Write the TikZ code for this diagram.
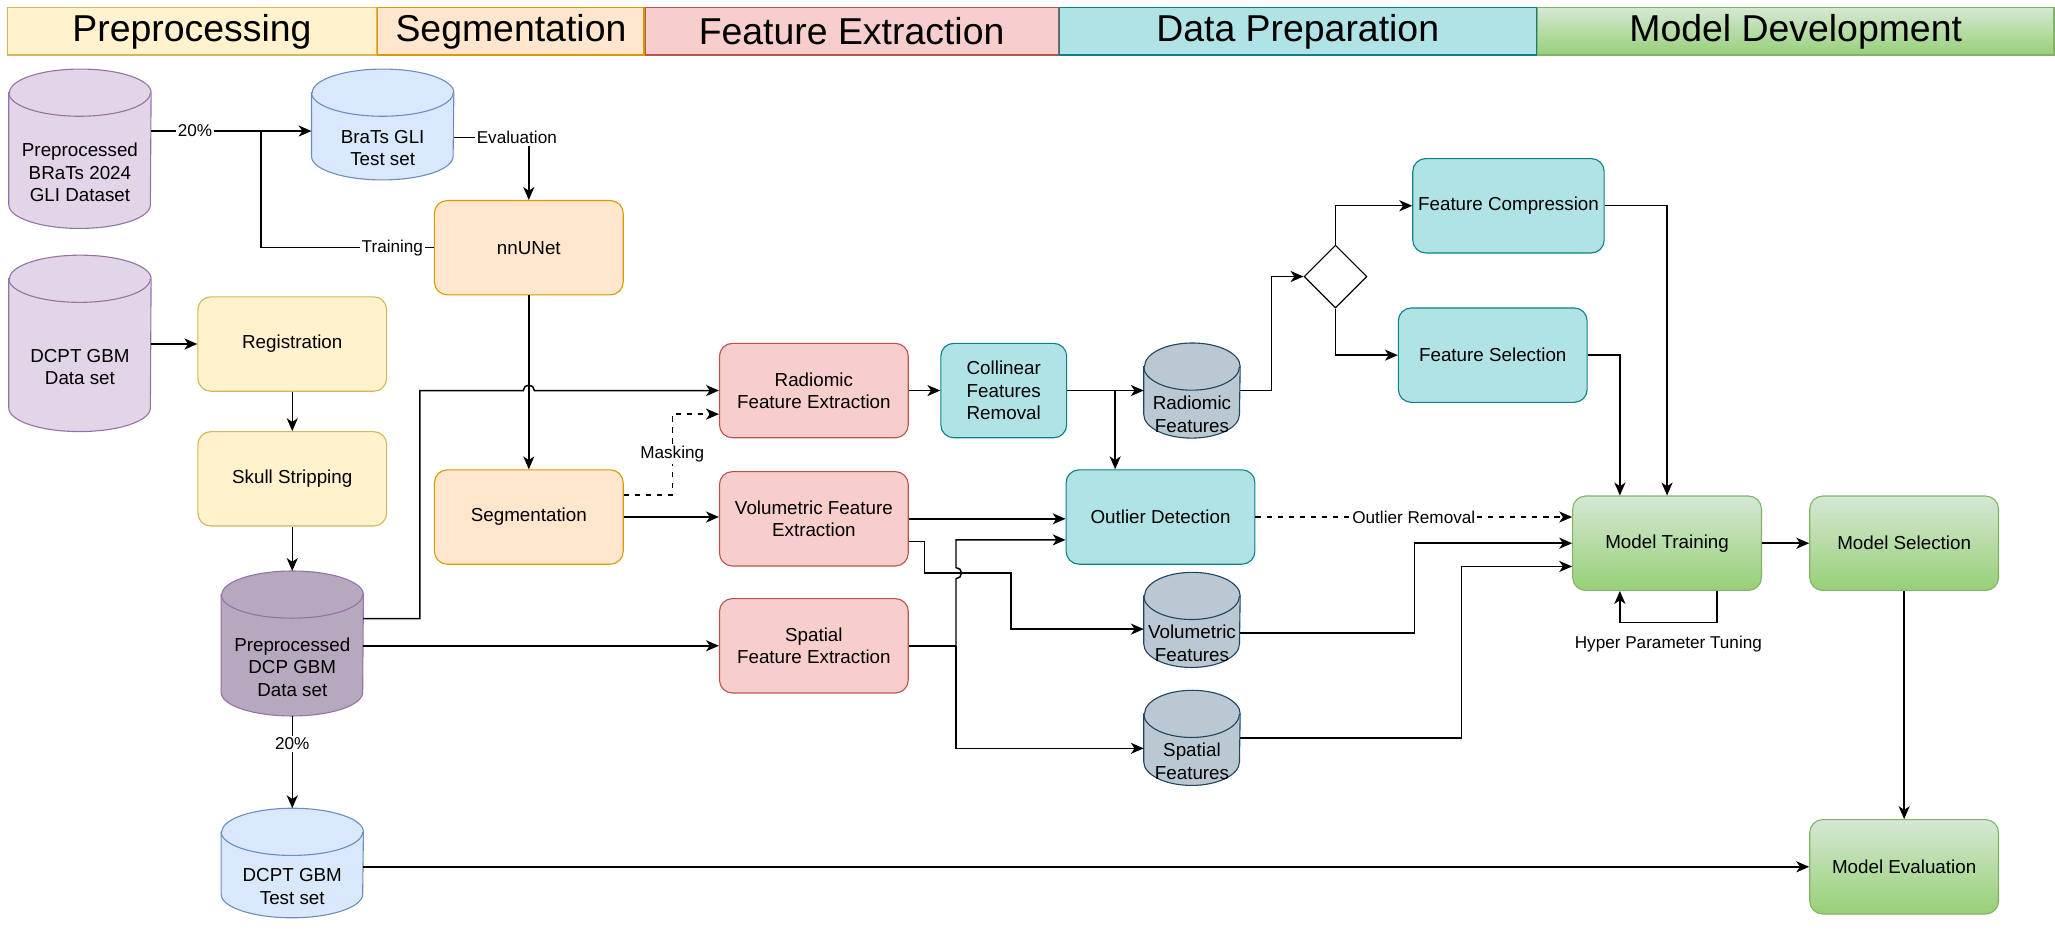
\documentclass[tikz,border=0pt]{standalone}
\usepackage{fontspec}
\setmainfont{Liberation Sans}
\usetikzlibrary{shapes.geometric, arrows.meta, positioning, backgrounds}

\definecolor{prepFill}{HTML}{FFF2CC}
\definecolor{prepLine}{HTML}{D6B656}
\definecolor{segFill}{HTML}{FFE6CC}
\definecolor{segLine}{HTML}{D79B00}
\definecolor{featFill}{HTML}{F8CECC}
\definecolor{featLine}{HTML}{B85450}
\definecolor{dataFill}{HTML}{B0E3E6}
\definecolor{dataLine}{HTML}{0E8088}
\definecolor{modelTop}{HTML}{D5E8D4}
\definecolor{modelBot}{HTML}{97D077}
\definecolor{modelLine}{HTML}{82B366}
\definecolor{cylPurpleFill}{HTML}{E1D5E7}
\definecolor{cylPurpleLine}{HTML}{9673A6}
\definecolor{cylDarkFill}{HTML}{B6A9BF}
\definecolor{cylBlueFill}{HTML}{DAE8FC}
\definecolor{cylBlueLine}{HTML}{6C8EBF}
\definecolor{cylGreyFill}{HTML}{BAC8D3}
\definecolor{cylGreyLine}{HTML}{23445D}

\newcommand{\boxfont}{\fontsize{10.2}{12.2}\selectfont}
\newcommand{\lblfont}{\fontsize{9.3}{11}\selectfont}
\newcommand{\bandfont}{\fontsize{20.3}{24}\selectfont}

\begin{document}
\begin{tikzpicture}[x=0.025cm, y=-0.025cm, node distance=1cm,
    band/.style={rectangle, draw, line width=0.6pt, minimum height=0.9cm, inner sep=0pt, font=\bandfont},
    stage/.style={rectangle, rounded corners=7pt, draw, line width=0.6pt, minimum width=3.6cm, minimum height=1.8cm, align=center, inner sep=1pt, font=\boxfont},
    prepbox/.style={stage, fill=prepFill, draw=prepLine},
    segbox/.style={stage, fill=segFill, draw=segLine},
    featbox/.style={stage, fill=featFill, draw=featLine},
    databox/.style={stage, fill=dataFill, draw=dataLine},
    modelbox/.style={stage, top color=modelTop, bottom color=modelBot, draw=modelLine},
    db/.style={rectangle, minimum width=2.7cm, inner sep=0pt},
    smalldb/.style={db, minimum width=1.825cm, minimum height=1.8cm},
    dbtext/.style={align=center, yshift=-12.8pt, inner sep=0pt, font=\boxfont},
    cylPurple/.style={draw=cylPurpleLine, fill=cylPurpleFill},
    cylDark/.style={draw=cylPurpleLine, fill=cylDarkFill},
    cylBlue/.style={draw=cylBlueLine, fill=cylBlueFill},
    cylGrey/.style={draw=cylGreyLine, fill=cylGreyFill},
    arr/.style={-{Stealth[length=7pt, width=6pt, inset=2pt]}, line width=0.8pt},
    wire/.style={line width=0.8pt},
    lbl/.style={font=\lblfont, fill=white, inner sep=1pt}]
    \useasboundingbox (0,0) rectangle (1568,720);

    % Stage bands
    \node (hdrPre) [band, fill=prepFill, draw=prepLine, minimum width=7.05cm, anchor=west] at (5,24) {Preprocessing};
    \node (hdrSeg) [band, fill=segFill, draw=segLine, minimum width=5.075cm, right=0pt of hdrPre] {Segmentation};
    \node (hdrFeat) [band, fill=featFill, draw=featLine, minimum width=7.875cm, right=0pt of hdrSeg] {Feature Extraction};
    \node (hdrData) [band, fill=dataFill, draw=dataLine, minimum width=9.1cm, right=0pt of hdrFeat] {Data Preparation};
    \node (hdrModel) [band, top color=modelTop, bottom color=modelBot, draw=modelLine, minimum width=9.85cm, right=0pt of hdrData] {Model Development};

    % Nodes
    \node (bratsData) [db, minimum height=3.025cm, label={[dbtext]center:Preprocessed\\BRaTs 2024\\GLI Dataset}] at (61,113.5) {};
    \node (bratsTest) [db, minimum height=2.1cm, label={[dbtext]center:BraTs GLI\\Test set}] at (292,95) {};
    \node (dcptData) [db, minimum height=3.35cm, label={[dbtext]center:DCPT GBM\\Data set}] at (61,262) {};
    \node (reg) [prepbox] at (223,262.5) {Registration};
    \node (skull) [prepbox, below=0.75cm of reg] {Skull Stripping};
    \node (dcpPre) [db, minimum height=2.75cm, label={[dbtext]center:Preprocessed\\DCP GBM\\Data set}] at (223,491) {};
    \node (dcptTest) [db, minimum height=2.075cm, label={[dbtext]center:DCPT GBM\\Test set}] at (223,658.5) {};
    \node (nnunet) [segbox] at (403.5,189) {nnUNet};
    \node (segm) [segbox] at (403.5,394.5) {Segmentation};
    \node (radFE) [featbox] at (621,298) {Radiomic\\Feature Extraction};
    \node (volFE) [featbox, below=0.625cm of radFE] {Volumetric Feature\\Extraction};
    \node (spaFE) [featbox, below=0.6cm of volFE] {Spatial\\Feature Extraction};
    \node (collin) [databox, minimum width=2.4cm, right=0.6cm of radFE] {Collinear\\Features\\Removal};
    \node (radFeat) [smalldb, label={[dbtext]center:Radiomic\\Features}] at (909.5,298) {};
    \node (volFeat) [smalldb, label={[dbtext]center:Volumetric\\Features}] at (909.5,473) {};
    \node (spaFeat) [smalldb, label={[dbtext]center:Spatial\\Features}] at (909.5,563) {};
    \node (outlier) [databox] at (885.5,394.5) {Outlier Detection};
    \node (decide) [diamond, draw, line width=0.6pt, aspect=1, minimum width=1.2cm, minimum height=1.2cm, inner sep=0pt] at (1019,211) {};
    \node (featComp) [databox, minimum width=3.65cm] at (1151,157) {Feature Compression};
    \node (featSel) [databox] at (1139,271) {Feature Selection};
    \node (train) [modelbox] at (1272,414.5) {Model Training};
    \node (select) [modelbox, right=0.9cm of train] {Model Selection};
    \node (evalu) [modelbox, below=4.35cm of select] {Model Evaluation};

    % Cylinder bodies
    \begin{scope}[on background layer]
        \foreach \c/\rx/\look in {bratsData/38.41pt/cylPurple, dcptData/38.41pt/cylPurple, bratsTest/38.41pt/cylBlue, dcptTest/38.41pt/cylBlue, dcpPre/38.41pt/cylDark, radFeat/25.96pt/cylGrey, volFeat/25.96pt/cylGrey, spaFeat/25.96pt/cylGrey} {
            \draw[\look, line width=0.6pt] ([yshift=-12.8pt]\c.north west) -- ([yshift=12.8pt]\c.south west)
                arc[start angle=180, end angle=360, x radius=\rx, y radius=12.8pt]
                -- ([yshift=-12.8pt]\c.north east)
                arc[start angle=0, end angle=180, x radius=\rx, y radius=12.8pt] -- cycle;
            \draw[\look, fill=none, line width=0.6pt] ([yshift=-12.8pt]\c.north west) arc[start angle=180, end angle=360, x radius=\rx, y radius=12.8pt];
        }
    \end{scope}

    % Edges
    \coordinate (split) at (199,100);
    \draw[arr] (bratsData.east |- split) -- node[lbl, pos=0.4] {20\%} (split) -- (bratsTest.west |- split);
    \draw[wire] (split) |- node[lbl, pos=0.88] {Training} (nnunet.west);
    \draw[arr] ([yshift=-7pt]bratsTest.east) -| node[lbl, pos=0.42] {Evaluation} (nnunet.north);
    \draw[arr] (dcptData.east |- reg.west) -- (reg.west);
    \draw[arr] (reg) -- (skull);
    \draw[arr] (skull) -- (dcpPre);
    \draw[arr] (nnunet) -- (segm);
    \draw[arr] ([yshift=13.5pt]dcpPre.east) -- ++(43,0) |- ([xshift=-3pt]nnunet.south |- radFE.west)
        arc[start angle=180, end angle=0, radius=3pt] -- (radFE.west);
    \draw[arr, dashed] ([yshift=12pt]segm.east) -- ++(37,0) |- node[lbl, pos=0.25] {Masking} ([yshift=-12.8pt]radFE.west);
    \draw[arr] (segm.east) -- (segm.east -| volFE.west);
    \draw[arr] (dcpPre.east |- spaFE.west) -- (spaFE.west);
    \draw[arr] (radFE) -- (collin);
    \draw[arr] (collin) -- (radFeat);
    \draw[arr] ([xshift=26pt]collin.east) -- ([xshift=26pt]collin.east |- outlier.north);
    \draw[arr] (volFE.east) -- (volFE.east -| outlier.west);
    \draw[arr] ([yshift=-12.4pt]volFE.east) -- ++(12,0) -- ++(0,24) coordinate (volBend) -- ++(66,0) |- ([yshift=-5pt]volFeat.west);
    \draw[wire] (spaFE.east) -- ++(36,0) coordinate (spaTurn);
    \draw[arr] (spaTurn) -- ([yshift=-3pt]spaTurn |- volBend) arc[start angle=-90, end angle=90, radius=3pt]
        |- ([yshift=-12.4pt]outlier.west);
    \draw[arr] (spaTurn) |- ([yshift=-5.7pt]spaFeat.west);
    \draw[arr, dashed] (outlier.east) -- node[lbl] {Outlier Removal} (outlier.east -| train.west);
    \draw[arr] ([yshift=-7pt]volFeat.east) -- ++(133,0) |- (train.west);
    \draw[arr] (spaFeat.east) -- ++(169,0) |- ([yshift=-12.6pt]train.west);
    \draw[arr] (radFeat.east) -- ++(24,0) |- (decide.west);
    \draw[arr] (decide.north) |- (featComp.west);
    \draw[arr] (decide.south) |- (featSel.west);
    \draw[arr] (featSel.east) -| ([xshift=-25.6pt]train.north);
    \draw[arr] (featComp.east) -| (train.north);
    \draw[arr] (train) -- (select);
    \draw[arr] ([xshift=27pt]train.south) -- ++(0,24) -| node[lbl, pos=0.25, below=6pt, fill=none] {Hyper Parameter Tuning} ([xshift=-25.6pt]train.south);
    \draw[arr] (select) -- (evalu);
    \draw[arr] (dcptTest.east |- evalu.west) -- (evalu.west);
    \draw[arr] (dcpPre) -- node[lbl, pos=0.3] {20\%} (dcptTest);
\end{tikzpicture}
\end{document}
